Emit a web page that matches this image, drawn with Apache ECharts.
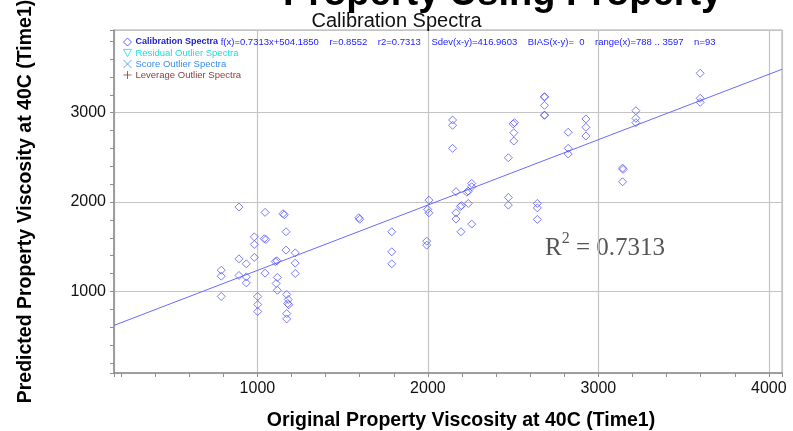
<!DOCTYPE html>
<html><head><meta charset="utf-8">
<script src="https://cdn.jsdelivr.net/npm/echarts@6/dist/echarts.min.js"></script>
<style>html,body{margin:0;padding:0;background:#fff}#c{width:793px;height:431px}</style>
</head><body><div id="c"></div>
<script>
// Calibration spectra: original (x) vs predicted (y)
const calX = [788,788,788, 892,892,892, 935,935,935, 982,982,982, 1002,1002,1002,
  1045,1040,1050,1045, 1105,1115,1117,1110,1117,
  1150,1158,1168,1168,1172,1181,1178,1184,1172,1172,
  1222,1222,1222, 1595,1600, 1788,1788,1788,
  2006,1999,2006,1993,1993, 2145,2145,2145,2165,2165,2165,
  2190,2197,2194, 2228,2237,2237,2257,2257,2257,
  2472,2472,2472, 2500,2508,2504,2504, 2642,2642,2642,
  2684,2684,2684,2684,2684, 2823,2823,2823, 2927,2927,2927,
  3142,3145,3142, 3220,3220,3220, 3597,3597,3597];
const calY = [1238,1171,944, 1944,1365,1179, 1309,1163,1096, 1611,1526,1381, 944,854,776,
  1885,1590,1582,1205, 1335,1343,1157,1089,1014,
  1870,1858,1668,1463,966,910,865,852,753,693,
  1432,1317,1201, 1825,1808, 1668,1444,1309,
  2022,1918,1880,1563,1518, 2918,2859,2601,2116,1880,1810,
  1950,1960,1668, 2110,2122,1985,2209,2171,1754,
  2496,2052,1966, 2875,2888,2776,2683, 1985,1935,1806,
  3179,3175,3082,2974,2970, 2781,2601,2538, 2930,2837,2739,
  2380,2365,2227, 3022,2937,2888, 3441,3161,3116];
const residualX = [], residualY = [];
const scoreX = [], scoreY = [];
const leverageX = [], leverageY = [];
// regression f(x)=0.7313x+504.1850
const fitSlope = 0.7313, fitIntercept = 504.1850;
const xMin = 159, xMax = 4077, yMin = 88, yMax = 3925;
const xTickLabels = [1000, 2000, 3000, 4000];
const yTickLabels = [1000, 2000, 3000];
const statsFields = ['f(x)=0.7313x+504.1850', 'r=0.8552', 'r2=0.7313', 'Sdev(x-y)=416.9603', 'BIAS(x-y)=  0', 'range(x)=788 .. 3597', 'n=93'];
const seriesNames = ['Calibration Spectra', 'Residual Outlier Spectra', 'Score Outlier Spectra', 'Leverage Outlier Spectra'];

const pair = (xs, ys) => xs.map((x, i) => [x, ys[i]]);
const fitLine = [[xMin, fitSlope * xMin + fitIntercept], [xMax, fitSlope * xMax + fitIntercept]];
const statsText = statsFields.join('    ');

const chart = echarts.init(document.getElementById('c'), null, {renderer: 'canvas'});
const axisGrey = '#8f8f8f';
const gridGrey = '#c4c4c4';
const F = 'Liberation Sans, Arial, sans-serif';
const SERIF = '"Liberation Serif", "Times New Roman", serif';

chart.setOption({
  backgroundColor: '#fff',
  animation: false,
  title: {
    text: 'Calibration Spectra', left: 'center', top: 6,
    textStyle: {fontFamily: F, fontSize: 20, fontWeight: 'normal', color: '#111'}
  },
  graphic: [
    {type: 'text', left: 283, top: -24, style: {text: 'Property Using Property', font: 'bold 38px ' + F, fill: '#000'}},
    {type: 'text', left: 545, top: 231, style: {
      text: '{r|R}{s|2}{r| = 0.7313}',
      rich: {
        r: {fontFamily: SERIF, fontSize: 25, lineHeight: 30, verticalAlign: 'bottom', fill: '#555'},
        s: {fontFamily: SERIF, fontSize: 16, lineHeight: 16, verticalAlign: 'top', fill: '#555'}
      }}}
  ],
  grid: {left: 114, top: 30, right: 11, bottom: 58, show: true, borderColor: '#a8a8a8', borderWidth: 1,
    outerBoundsMode: 'none', containLabel: false},
  legend: {
    orient: 'vertical', left: 118, top: 32, itemWidth: 8, itemHeight: 8, itemGap: 1,
    textStyle: {fontFamily: F, fontSize: 9.5, lineHeight: 10, padding: [0, 0, 0, -1],
      rich: {b: {fontFamily: F, fontSize: 9, lineHeight: 10, fontWeight: 'bold', color: '#1c1cc8'}}},
    formatter: n => n === seriesNames[0] ? '{b|' + n + '} ' + statsText : n,
    data: [
      {name: seriesNames[0], icon: 'path://M5,0L10,5L5,10L0,5Z', itemStyle: {color: 'rgba(0,0,0,0)', borderColor: '#3d3dff', borderWidth: 1}, textStyle: {color: '#2323ff'}},
      {name: seriesNames[1], icon: 'path://M0,0L10,0L5,9Z', itemStyle: {color: 'rgba(0,0,0,0)', borderColor: '#19e0e0', borderWidth: 1}, textStyle: {color: '#19dede'}},
      {name: seriesNames[2], icon: 'path://M0,0L10,10M10,0L0,10', itemStyle: {color: 'rgba(0,0,0,0)', borderColor: '#3f8ff0', borderWidth: 1}, textStyle: {color: '#3a8cf0'}},
      {name: seriesNames[3], icon: 'path://M5,0L5,10M0,5L10,5', itemStyle: {color: 'rgba(0,0,0,0)', borderColor: '#8b3b3b', borderWidth: 1}, textStyle: {color: '#8b3b3b'}}
    ]
  },
  xAxis: [{
    type: 'value', min: xMin, max: xMax, splitNumber: 20,
    axisLine: {show: true, onZero: false, lineStyle: {color: axisGrey, width: 1.5}},
    axisTick: {show: true, inside: false, length: 4, lineStyle: {color: axisGrey}},
    axisLabel: {margin: 8, fontFamily: F, fontSize: 16, color: '#111',
      formatter: v => xTickLabels.includes(Math.round(v)) ? String(Math.round(v)) : ''},
    splitLine: {show: false},
    name: 'Original Property Viscosity at 40C (Time1)', nameLocation: 'middle', nameGap: 38,
    nameTextStyle: {fontFamily: F, fontSize: 19.5, fontWeight: 'bold', color: '#000', padding: [0, 0, 0, 26]}
  }, {
    type: 'value', min: xMin, max: xMax, splitNumber: 4, position: 'bottom',
    axisLine: {show: false}, axisTick: {show: false}, axisLabel: {show: false},
    splitLine: {show: true, lineStyle: {color: gridGrey, width: 1.2}}
  }],
  yAxis: [{
    type: 'value', min: yMin, max: yMax, splitNumber: 20,
    axisLine: {show: true, onZero: false, lineStyle: {color: axisGrey, width: 1.5}},
    axisTick: {show: true, inside: false, length: 4, lineStyle: {color: axisGrey}},
    axisLabel: {margin: 8, fontFamily: F, fontSize: 16, color: '#111',
      formatter: v => yTickLabels.includes(Math.round(v)) ? String(Math.round(v)) : ''},
    splitLine: {show: false},
    name: 'Predicted Property Viscosity at 40C (Time1)', nameLocation: 'middle', nameGap: 78,
    nameTextStyle: {fontFamily: F, fontSize: 19.5, fontWeight: 'bold', color: '#000'}
  }, {
    type: 'value', min: yMin, max: yMax, splitNumber: 4, position: 'left',
    axisLine: {show: false}, axisTick: {show: false}, axisLabel: {show: false},
    splitLine: {show: true, lineStyle: {color: gridGrey, width: 1.2}}
  }],
  series: [
    {name: seriesNames[0], type: 'scatter', data: pair(calX, calY), symbol: 'diamond', symbolSize: 8,
      itemStyle: {color: 'rgba(0,0,0,0)', borderColor: '#5a5aff', borderWidth: 1}, z: 3},
    {name: seriesNames[1], type: 'scatter', data: pair(residualX, residualY), symbol: 'triangle', symbolRotate: 180,
      itemStyle: {color: 'rgba(0,0,0,0)', borderColor: '#19e0e0', borderWidth: 1}},
    {name: seriesNames[2], type: 'scatter', data: pair(scoreX, scoreY),
      itemStyle: {color: 'rgba(0,0,0,0)', borderColor: '#3f8ff0', borderWidth: 1}},
    {name: seriesNames[3], type: 'scatter', data: pair(leverageX, leverageY),
      itemStyle: {color: 'rgba(0,0,0,0)', borderColor: '#8b3b3b', borderWidth: 1}},
    {name: 'fit', type: 'line', data: fitLine, showSymbol: false, symbol: 'none',
      lineStyle: {color: '#6b6bff', width: 1}, z: 2, silent: true}
  ]
});
</script></body></html>
